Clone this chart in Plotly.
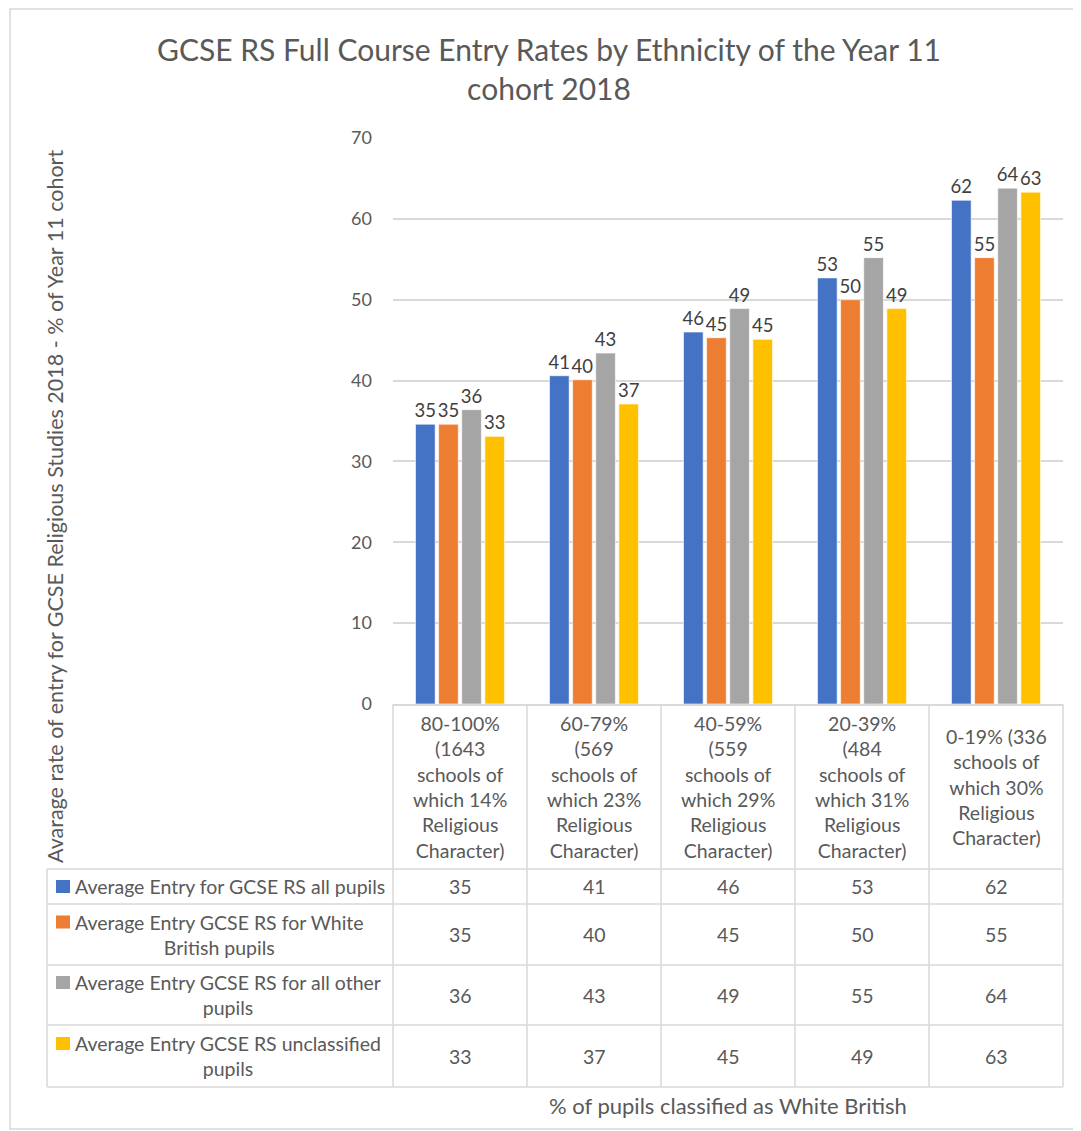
import plotly.graph_objects as go

# categories (x) and the wrapped labels shown in the data table header
categories = ["80-100%", "60-79%", "40-59%", "20-39%", "0-19%"]
category_labels = [
    "80-100%<br>(1643<br>schools of<br>which 14%<br>Religious<br>Character)",
    "60-79%<br>(569<br>schools of<br>which 23%<br>Religious<br>Character)",
    "40-59%<br>(559<br>schools of<br>which 29%<br>Religious<br>Character)",
    "20-39%<br>(484<br>schools of<br>which 31%<br>Religious<br>Character)",
    "0-19% (336<br>schools of<br>which 30%<br>Religious<br>Character)",
]

series_names = [
    "Average Entry for GCSE RS all pupils",
    "Average Entry GCSE RS for White British pupils",
    "Average Entry GCSE RS for all other pupils",
    "Average Entry GCSE RS unclassified pupils",
]
series_labels = [
    "Average Entry for GCSE RS all pupils",
    "Average Entry GCSE RS for White<br>British pupils",
    "Average Entry GCSE RS for all other<br>pupils",
    "Average Entry GCSE RS unclassified<br>pupils",
]

all_pupils = [34.6, 40.6, 46.0, 52.7, 62.3]
white_british = [34.6, 40.1, 45.3, 50.0, 55.2]
other_pupils = [36.4, 43.4, 48.9, 55.2, 63.8]
unclassified = [33.1, 37.1, 45.1, 48.9, 63.3]

series_values = [all_pupils, white_british, other_pupils, unclassified]
colors = ["#4472C4", "#ED7D31", "#A5A5A5", "#FFC000"]

y_ticks = [0, 10, 20, 30, 40, 50, 60, 70]

FONT = "Lato, 'Open Sans', sans-serif"
TXT = "#595959"
GRID = "#D9D9D9"

# page body has an 8px margin, so the figure is drawn 8px in from the corner
OFF = 8
W, H = 1081 - OFF, 1131 - OFF
PL, PR, PT, PB = 393, 1063, 138, 704   # plot area in page pixels


def px(x):
    return (x - PL) / (PR - PL)


def py(y):
    return (PB - y) / (PB - PT)


fig = go.Figure()

for name, vals, col in zip(series_names, series_values, colors):
    fig.add_trace(go.Bar(
        x=categories, y=vals, name=name,
        marker=dict(color=col, line=dict(color="rgba(255,255,255,0.6)", width=1)),
        text=[f"{v:.0f}" for v in vals],
        textposition="outside",
        constraintext="none",
        textfont=dict(family=FONT, size=18.5, color="#404040"),
        cliponaxis=False,
    ))

shapes = []
annotations = []

# outer chart border
shapes.append(dict(type="rect", xref="paper", yref="paper",
                   x0=px(10), x1=px(1079), y0=py(9), y1=py(1129),
                   line=dict(color=GRID, width=1.5), layer="below"))

# data table grid
row_edges = [704, 869, 904, 965, 1025, 1087]
col_edges = [393, 527, 661, 795, 929, 1063]
for ye in row_edges[1:]:
    shapes.append(dict(type="line", xref="paper", yref="paper",
                       x0=px(47), x1=px(1063), y0=py(ye), y1=py(ye),
                       line=dict(color=GRID, width=1.5)))
for xe in col_edges:
    shapes.append(dict(type="line", xref="paper", yref="paper",
                       x0=px(xe), x1=px(xe), y0=py(704), y1=py(1087),
                       line=dict(color=GRID, width=1.5)))
shapes.append(dict(type="line", xref="paper", yref="paper",
                   x0=px(47), x1=px(47), y0=py(869), y1=py(1087),
                   line=dict(color=GRID, width=1.5)))

TBL = 19.5

# header row: category labels
for cat, lab in zip(categories, category_labels):
    annotations.append(dict(x=cat, xref="x", y=py(786.5), yref="paper",
                            text=lab, showarrow=False, align="center",
                            font=dict(family=FONT, size=TBL, color=TXT),
                            yanchor="middle"))

# series rows: legend key + name + values
for i, (lab, vals, col) in enumerate(zip(series_labels, series_values, colors)):
    yc = (row_edges[i + 1] + row_edges[i + 2]) / 2
    ysq = yc - 12.5 if "<br>" in lab else yc
    shapes.append(dict(type="rect", xref="paper", yref="paper",
                       x0=px(56), x1=px(70), y0=py(ysq - 6.5), y1=py(ysq + 6.5),
                       fillcolor=col, line=dict(width=0)))
    annotations.append(dict(x=px(73), xref="paper", y=py(yc), yref="paper",
                            text=lab, showarrow=False, align="center",
                            xanchor="left", yanchor="middle",
                            font=dict(family=FONT, size=TBL, color=TXT)))
    for cat, v in zip(categories, vals):
        annotations.append(dict(x=cat, xref="x", y=py(yc), yref="paper",
                                text=f"{v:.0f}", showarrow=False,
                                yanchor="middle",
                                font=dict(family=FONT, size=TBL, color=TXT)))

# axis titles
annotations.append(dict(x=px(55), xref="paper", y=py(507), yref="paper",
                        text="Avarage rate of entry for GCSE Religious Studies 2018 - % of Year 11 cohort",
                        textangle=-90, showarrow=False,
                        xanchor="center", yanchor="middle",
                        font=dict(family=FONT, size=21.5, color=TXT)))
annotations.append(dict(x=px(728), xref="paper", y=py(1105), yref="paper",
                        text="% of pupils classified as White British",
                        showarrow=False, xanchor="center", yanchor="middle",
                        font=dict(family=FONT, size=22, color=TXT)))

fig.update_layout(
    width=W, height=H,
    margin=dict(l=PL - OFF, r=W - (PR - OFF), t=PT - OFF, b=H - (PB - OFF), pad=0),
    paper_bgcolor="white", plot_bgcolor="white",
    title=dict(text="GCSE RS Full Course Entry Rates by Ethnicity of the Year 11<br>cohort 2018",
               x=(549 - OFF) / W, xanchor="center", y=1 - (61 - OFF) / H, yanchor="middle",
               font=dict(family=FONT, size=30, color=TXT)),
    barmode="group", bargap=0.31, bargroupgap=0.15,
    showlegend=False,
    xaxis=dict(showticklabels=False, showgrid=False, zeroline=False,
               showline=True, linecolor=GRID, linewidth=1.5, ticks=""),
    yaxis=dict(range=[0, 70], tickvals=y_ticks, showgrid=True, gridcolor=GRID,
               gridwidth=1.5, zeroline=False, showline=False,
               ticklabelstandoff=20,
               tickfont=dict(family=FONT, size=18, color=TXT)),
    shapes=shapes,
    annotations=annotations,
)

fig.write_html("out.html")
